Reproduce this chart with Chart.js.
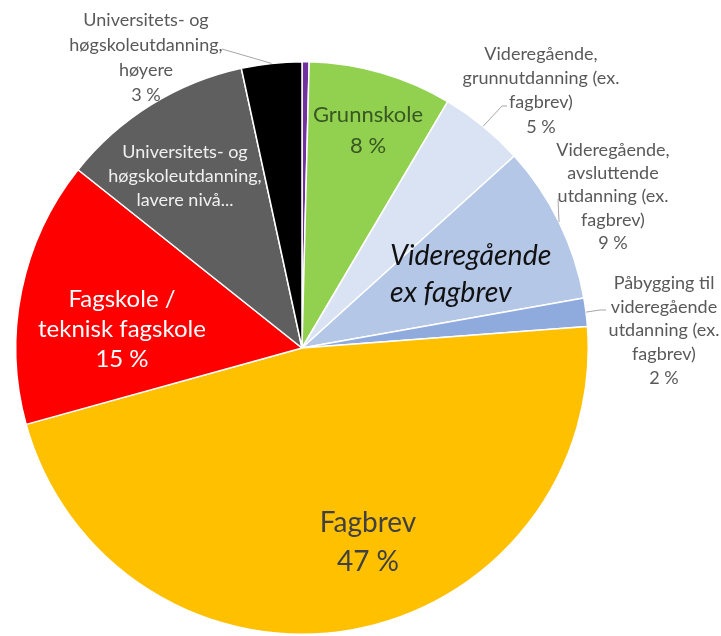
<!DOCTYPE html>
<html>
<head>
<meta charset="utf-8">
<script src="https://cdn.jsdelivr.net/npm/chart.js@4.4.0/dist/chart.umd.min.js"></script>
<style>
  html, body { margin: 0; padding: 0; background: #fff; }
  canvas { display: block; }
</style>
</head>
<body>
<canvas id="pieChart" width="721" height="636"></canvas>
<script>
// data, clockwise from 12 o'clock
const categories = [
  "Annet",
  "Grunnskole",
  "Videregående, grunnutdanning (ex. fagbrev)",
  "Videregående, avsluttende utdanning (ex. fagbrev)",
  "Påbygging til videregående utdanning (ex. fagbrev)",
  "Fagbrev",
  "Fagskole / teknisk fagskole",
  "Universitets- og høgskoleutdanning, lavere nivå",
  "Universitets- og høgskoleutdanning, høyere"
];
const shares = [0.4, 8.1, 4.8, 8.9, 1.6, 46.9, 15.0, 10.9, 3.4];
const pctLabels = ["", "8 %", "5 %", "9 %", "2 %", "47 %", "15 %", "", "3 %"];
const sliceColors = ["#7030a0", "#92d050", "#dae3f3", "#b4c7e7", "#8faadc",
                     "#ffc000", "#ff0000", "#5f5f5f", "#000000"];

// label text per slice (percent line appended where there is one)
const labelLines = [
  [],
  ["Grunnskole"],
  ["Videregående,", "grunnutdanning (ex.", "fagbrev)"],
  ["Videregående,", "avsluttende", "utdanning (ex.", "fagbrev)"],
  ["Påbygging til", "videregående", "utdanning (ex.", "fagbrev)"],
  ["Fagbrev"],
  ["Fagskole /", "teknisk fagskole"],
  ["Universitets- og", "høgskoleutdanning,", "lavere nivå..."],
  ["Universitets- og", "høgskoleutdanning,", "høyere"]
];
const groupNote = ["Videregående", "ex fagbrev"];

// ‚îÄ‚îÄ where each label sits (x centre, first line y, line step) ‚îÄ‚îÄ
const FONT = "Lato, 'Liberation Sans', sans-serif";
const labelStyle = [
  null,
  { x: 368, y: 115, step: 31, size: 22, color: "#385723" },
  { x: 541, y: 54,  step: 24.3, size: 18, color: "#595959", lead: [[502, 106], [507, 106]] },
  { x: 613, y: 150, step: 23.3, size: 18, color: "#595959", lead: [[558, 199]] },
  { x: 664, y: 283, step: 23.7, size: 18, color: "#595959", lead: [[600, 310], [606, 310]] },
  { x: 368, y: 523, step: 39, size: 28, color: "#404040" },
  { x: 122, y: 299, step: 30, size: 24, color: "#ffffff" },
  { x: 185, y: 152, step: 24, size: 18, color: "#f0f0f0" },
  { x: 146, y: 20,  step: 25, size: 18, color: "#595959", lead: [[222, 49]] }
];

const labelPlugin = {
  id: "sliceLabels",
  afterDatasetsDraw(chart) {
    const ctx = chart.ctx;
    const arcs = chart.getDatasetMeta(0).data;
    ctx.save();
    ctx.textAlign = "center";
    ctx.textBaseline = "middle";

    labelStyle.forEach((st, i) => {
      if (!st) return;
      const lines = labelLines[i].concat(pctLabels[i] ? [pctLabels[i]] : []);
      ctx.font = `${st.size}px ${FONT}`;
      ctx.fillStyle = st.color;
      lines.forEach((txt, k) => ctx.fillText(txt, st.x, st.y + k * st.step));

      // leader line from the slice edge to its label
      if (st.lead) {
        const a = arcs[i];
        const mid = (a.startAngle + a.endAngle) / 2;
        ctx.beginPath();
        ctx.moveTo(a.x + Math.cos(mid) * a.outerRadius, a.y + Math.sin(mid) * a.outerRadius);
        st.lead.forEach(p => ctx.lineTo(p[0], p[1]));
        ctx.strokeStyle = "#a6a6a6";
        ctx.lineWidth = 1;
        ctx.stroke();
      }
    });

    // group note over the Videregående slices
    ctx.textAlign = "left";
    ctx.font = `italic 28.5px ${FONT}`;
    ctx.fillStyle = "#111111";
    groupNote.forEach((txt, k) => ctx.fillText(txt, 390, 256 + k * 37));
    ctx.restore();
  }
};

new Chart(document.getElementById("pieChart"), {
  type: "pie",
  data: {
    labels: categories,
    datasets: [{
      data: shares,
      backgroundColor: sliceColors,
      borderColor: "#ffffff",
      borderWidth: 1.5
    }]
  },
  options: {
    responsive: false,
    animation: false,
    layout: { padding: { left: 15, right: 132, top: 61, bottom: 1 } },
    plugins: {
      legend: { display: false },
      tooltip: { enabled: false }
    }
  },
  plugins: [labelPlugin]
});
</script>
</body>
</html>
